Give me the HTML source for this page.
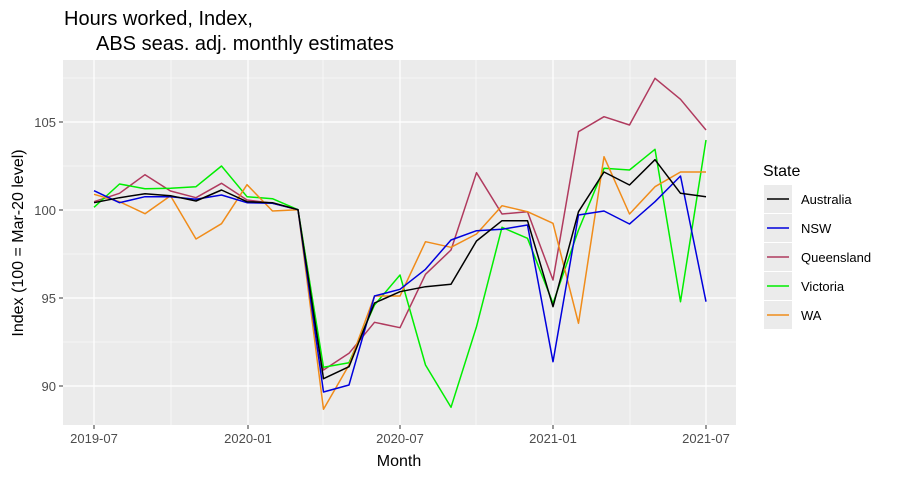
<!DOCTYPE html><html><head><style>body{margin:0;background:#fff}svg{font-family:"Liberation Sans",sans-serif}</style></head><body>
<svg width="899" height="479" xmlns="http://www.w3.org/2000/svg">
<text x="64" y="25" font-size="20">Hours worked, Index,</text>
<text x="96" y="50" font-size="20">ABS seas. adj. monthly estimates</text>
<rect x="63" y="60" width="673" height="365" fill="#ebebeb"/>
<g stroke="#fff" stroke-width="0.6"><line x1="63" x2="736" y1="78" y2="78"/><line x1="63" x2="736" y1="166" y2="166"/><line x1="63" x2="736" y1="254" y2="254"/><line x1="63" x2="736" y1="342" y2="342"/><line y1="60" y2="425" x1="171" x2="171"/><line y1="60" y2="425" x1="323" x2="323"/><line y1="60" y2="425" x1="476" x2="476"/><line y1="60" y2="425" x1="630" x2="630"/></g>
<g stroke="#fff" stroke-width="1.2"><line x1="63" x2="736" y1="122" y2="122"/><line x1="63" x2="736" y1="210" y2="210"/><line x1="63" x2="736" y1="298" y2="298"/><line x1="63" x2="736" y1="386" y2="386"/><line y1="60" y2="425" x1="94" x2="94"/><line y1="60" y2="425" x1="248" x2="248"/><line y1="60" y2="425" x1="400" x2="400"/><line y1="60" y2="425" x1="553" x2="553"/><line y1="60" y2="425" x1="706" x2="706"/></g>
<g fill="none" stroke-width="1.5" stroke-linejoin="round">
<polyline stroke="#b03a5e" points="94,201.7 119.5,193.3 145,174.7 170.5,191 196,197.7 221.5,183.3 247,200 272.5,203.3 298,209.7 323.5,370 349,353.3 374.5,322.3 400,327.7 425.5,274.3 451,250 476.5,172.7 502,214 527.5,211.7 553,280 578.5,131.7 604,116.7 629.5,125 655,78.3 680.5,99.3 706,130"/>
<polyline stroke="#00ee00" points="94,207.3 119.5,184 145,188.7 170.5,188.3 196,186.7 221.5,166 247,196.7 272.5,198.7 298,209.7 323.5,367.3 349,362.7 374.5,305 400,275 425.5,365 451,407.3 476.5,326.7 502,227.3 527.5,238.3 553,303.3 578.5,230 604,168.3 629.5,170 655,149.3 680.5,301.7 706,140"/>
<polyline stroke="#f08c1a" points="94,194.3 119.5,201.7 145,213.7 170.5,195.7 196,239 221.5,223.7 247,184.7 272.5,211 298,209.7 323.5,409.3 349,365 374.5,296 400,296 425.5,241.7 451,247.3 476.5,234 502,205.7 527.5,211.7 553,223.3 578.5,323.3 604,156.7 629.5,214 655,186.7 680.5,172 706,172"/>
<polyline stroke="#0000dd" points="94,190.7 119.5,202.7 145,196.7 170.5,196.7 196,199.3 221.5,195 247,202.7 272.5,203.3 298,209.7 323.5,392 349,385 374.5,296 400,289.3 425.5,269.3 451,240 476.5,230.7 502,229.3 527.5,225 553,361.7 578.5,215 604,211 629.5,224 655,201.7 680.5,176 706,301.7"/>
<polyline stroke="#000" points="94,202.7 119.5,197.7 145,193.7 170.5,195.7 196,201 221.5,190 247,201.7 272.5,202.7 298,209.7 323.5,378.7 349,366.7 374.5,303 400,291.7 425.5,286.7 451,284.3 476.5,241 502,220.7 527.5,220.7 553,306.7 578.5,211.7 604,172 629.5,185 655,159.7 680.5,193.3 706,196.7"/>
</g>
<g stroke="#333" stroke-width="1"><line x1="59" x2="63" y1="122" y2="122"/><line x1="59" x2="63" y1="210" y2="210"/><line x1="59" x2="63" y1="298" y2="298"/><line x1="59" x2="63" y1="386" y2="386"/><line y1="425" y2="429" x1="94" x2="94"/><line y1="425" y2="429" x1="248" x2="248"/><line y1="425" y2="429" x1="400" x2="400"/><line y1="425" y2="429" x1="553" x2="553"/><line y1="425" y2="429" x1="706" x2="706"/></g>
<g font-size="13" fill="#4d4d4d" text-anchor="end"><text x="56" y="127">105</text><text x="56" y="215">100</text><text x="56" y="303">95</text><text x="56" y="391">90</text></g>
<g font-size="13" fill="#4d4d4d" text-anchor="middle"><text x="94" y="443">2019-07</text><text x="248" y="443">2020-01</text><text x="400" y="443">2020-07</text><text x="553" y="443">2021-01</text><text x="706" y="443">2021-07</text></g>
<text x="399" y="466" font-size="16" text-anchor="middle">Month</text>
<text transform="translate(23,243) rotate(-90)" font-size="16" text-anchor="middle">Index (100 = Mar-20 level)</text>
<text x="763" y="176" font-size="16">State</text>
<g fill="#ebebeb"><rect x="764" y="185" width="28" height="28"/><rect x="764" y="214" width="28" height="28"/><rect x="764" y="243" width="28" height="28"/><rect x="764" y="272" width="28" height="28"/><rect x="764" y="301" width="28" height="28"/></g>
<g stroke-width="1.5"><line x1="767" x2="789" y1="199" y2="199" stroke="#000"/><line x1="767" x2="789" y1="228" y2="228" stroke="#0000dd"/><line x1="767" x2="789" y1="257" y2="257" stroke="#b03a5e"/><line x1="767" x2="789" y1="286" y2="286" stroke="#00ee00"/><line x1="767" x2="789" y1="315" y2="315" stroke="#f08c1a"/></g>
<g font-size="13"><text x="801" y="204">Australia</text><text x="801" y="233">NSW</text><text x="801" y="262">Queensland</text><text x="801" y="291">Victoria</text><text x="801" y="320">WA</text></g>
</svg></body></html>
